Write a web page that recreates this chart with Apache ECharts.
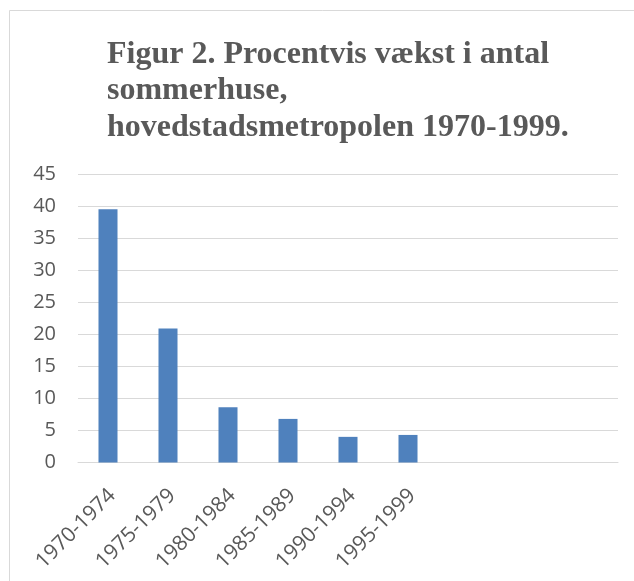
<!DOCTYPE html>
<html>
<head>
<meta charset="utf-8">
<script src="https://cdn.jsdelivr.net/npm/echarts@6/dist/echarts.min.js"></script>
<style>
html,body{margin:0;padding:0;background:#fff;}
#c{width:634px;height:581px;}
</style>
</head>
<body>
<div id="c"></div>
<script>
const categories = ['1970-1974','1975-1979','1980-1984','1985-1989','1990-1994','1995-1999','','',''];
const values = [39.5, 20.9, 8.6, 6.8, 4.0, 4.3];
const yTicks = {min: 0, max: 45, interval: 5};
const titleText = 'Figur 2. Procentvis vækst i antal\nsommerhuse,\nhovedstadsmetropolen 1970-1999.';

const chart = echarts.init(document.getElementById('c'), null, {renderer: 'canvas'});
chart.setOption({
  animation: false,
  backgroundColor: '#fff',
  graphic: [{
    type: 'rect',
    shape: {x: 9.5, y: 10.5, width: 700, height: 700},
    style: {fill: 'none', stroke: '#d9d9d9', lineWidth: 1},
    silent: true
  }],
  title: {
    text: titleText,
    left: 107,
    top: 36,
    padding: 0,
    textStyle: {
      fontFamily: '"Liberation Serif", "Times New Roman", serif',
      fontWeight: 'bold',
      fontSize: 32,
      lineHeight: 36.5,
      color: '#595959'
    }
  },
  grid: {left: 78, right: 16, top: 174, bottom: 118.5, containLabel: false},
  xAxis: {
    type: 'category',
    data: categories,
    axisLine: {show: true, lineStyle: {color: '#d9d9d9', width: 1}},
    axisTick: {show: false},
    axisLabel: {
      interval: 0,
      rotate: 45,
      margin: 34,
      padding: [0, -6, 0, 0],
      color: '#595959',
      fontSize: 21,
      fontFamily: '"Open Sans", "Liberation Sans", sans-serif'
    }
  },
  yAxis: {
    type: 'value',
    min: yTicks.min,
    max: yTicks.max,
    interval: yTicks.interval,
    axisLine: {show: false},
    axisTick: {show: false},
    splitLine: {lineStyle: {color: '#d9d9d9', width: 1}},
    axisLabel: {
      margin: 22,
      color: '#595959',
      fontSize: 20,
      fontFamily: '"Open Sans", "Liberation Sans", sans-serif'
    }
  },
  series: [{
    type: 'bar',
    data: values,
    barWidth: '31.7%',
    itemStyle: {color: '#4f81bd'}
  }]
});
</script>
</body>
</html>
